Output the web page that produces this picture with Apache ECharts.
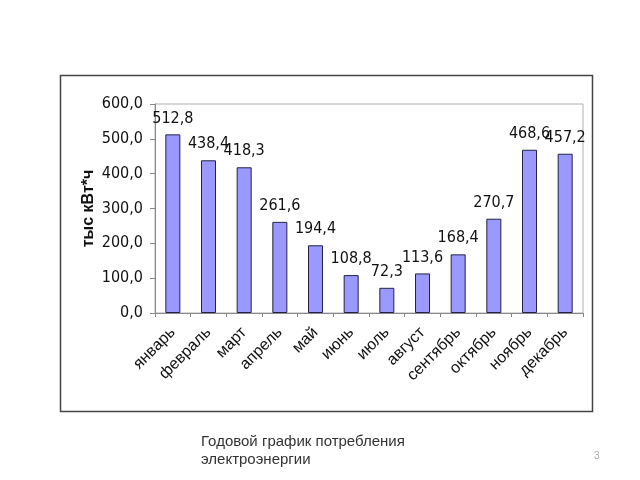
<!DOCTYPE html>
<html>
<head>
<meta charset="utf-8">
<style>
  html, body { margin: 0; padding: 0; background: #fff; }
  #chart { width: 640px; height: 480px; }
</style>
<script src="https://cdn.jsdelivr.net/npm/echarts@6/dist/echarts.min.js"></script>
</head>
<body>
<div id="chart"></div>
<script>
// помесячное потребление, тыс кВт*ч
const months = ['январь', 'февраль', 'март', 'апрель', 'май', 'июнь', 'июль', 'август', 'сентябрь', 'октябрь', 'ноябрь', 'декабрь']
const consumption = [512.8, 438.4, 418.3, 261.6, 194.4, 108.8, 72.3, 113.6, 168.4, 270.7, 468.6, 457.2]
const yTicks = { min: 0, max: 600, step: 100 }

const comma = (v) => Number(v).toFixed(1).replace('.', ',')
const narrow = "'DejaVu Sans Condensed', 'Liberation Sans', Arial, sans-serif"

const myChart = echarts.init(document.getElementById('chart'), null, { renderer: 'canvas' })

let option = {
  animation: false,
  backgroundColor: '#fff',
  title: {
    text: 'Годовой график потребления\nэлектроэнергии',
    left: 196,
    top: 428,
    textStyle: {
      fontFamily: "'Liberation Sans', Arial, sans-serif",
      fontSize: 15,
      fontWeight: 'normal',
      color: '#333',
      lineHeight: 18
    }
  },
  graphic: [
    {
      type: 'rect',
      shape: { x: 60.5, y: 75.5, width: 532, height: 336 },
      style: { fill: 'none', stroke: '#444', lineWidth: 1.5 },
      z: -1
    },
    {
      type: 'text',
      left: 594,
      top: 451,
      style: { text: '3', fill: '#aaa', fontSize: 10, fontFamily: 'sans-serif' }
    }
  ],
  grid: {
    left: 155,
    right: 57,
    top: 104,
    bottom: 167,
    show: true,
    borderColor: '#b0b0b0',
    borderWidth: 1
  },
  xAxis: {
    type: 'category',
    data: months,
    axisLine: { lineStyle: { color: '#888', width: 1 } },
    axisTick: { show: true, length: 4, lineStyle: { color: '#888' } },
    axisLabel: {
      rotate: 45,
      margin: 17,
      interval: 0,
      fontSize: 16,
      color: '#111',
      fontFamily: "'Liberation Sans', Arial, sans-serif"
    }
  },
  yAxis: {
    type: 'value',
    min: yTicks.min,
    max: yTicks.max,
    interval: yTicks.step,
    name: 'тыс кВт*ч',
    nameLocation: 'middle',
    nameGap: 58,
    nameMoveOverlap: false,
    nameTextStyle: {
      fontSize: 16,
      fontWeight: 'bold',
      color: '#111',
      fontFamily: "'Liberation Sans', Arial, sans-serif"
    },
    axisLine: { show: true, lineStyle: { color: '#888', width: 1 } },
    axisTick: { show: true, length: 5, lineStyle: { color: '#888' } },
    splitLine: { show: false },
    axisLabel: {
      formatter: comma,
      fontSize: 16,
      color: '#111',
      margin: 12,
      fontFamily: narrow
    }
  },
  series: [
    {
      name: 'потребление',
      type: 'bar',
      data: consumption,
      barWidth: 15,
      itemStyle: {
        color: '#9999ff',
        borderColor: '#222244',
        borderWidth: 1
      },
      label: {
        show: true,
        position: 'top',
        distance: 8,
        formatter: (p) => comma(p.value),
        fontSize: 16,
        color: '#111',
        fontFamily: narrow
      }
    }
  ]
}
option && myChart.setOption(option)
</script>
</body>
</html>
